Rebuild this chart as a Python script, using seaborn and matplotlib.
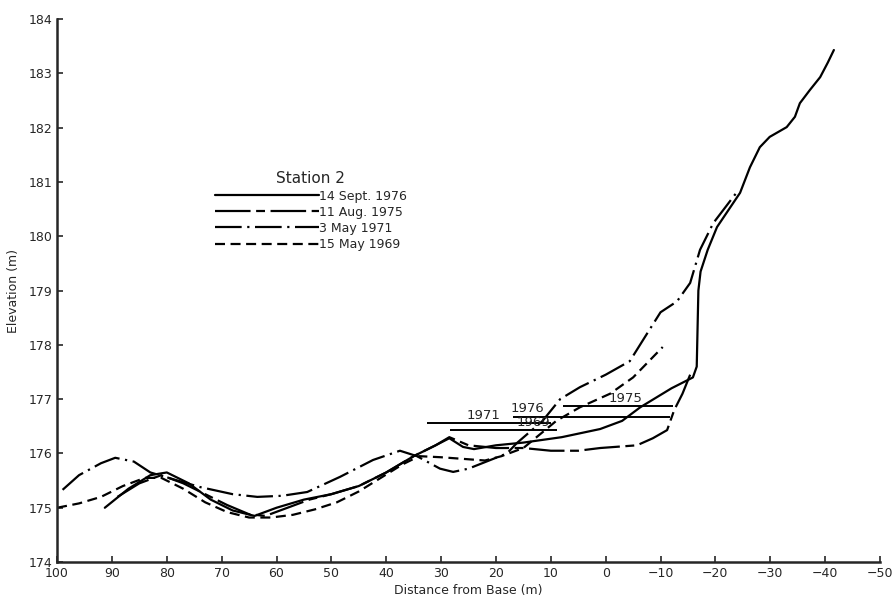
import numpy as np
import pandas as pd
import matplotlib
matplotlib.use('Agg')
import matplotlib.pyplot as plt
import seaborn as sns

# Beach profiles, Station 2 (distance from base in m, elevation in m)
x_1976 = [91.3, 87, 83, 80, 76, 72, 68, 64, 60, 55, 50, 45, 40, 35, 31, 28.5, 26, 24, 20,
          15, 8, 1, -3, -6.3, -12, -15.9, -16.6, -16.9, -17.3, -18.6, -20.3, -24.5, -26.3,
          -28.1, -29.9, -33, -34.5, -35.4, -37.2, -39.1, -40.5, -41.6]
y_1976 = [175.0, 175.35, 175.6, 175.65, 175.45, 175.15, 174.95, 174.85, 175.0, 175.15, 175.25,
          175.4, 175.65, 175.95, 176.15, 176.28, 176.12, 176.08, 176.15, 176.2, 176.3, 176.45,
          176.6, 176.85, 177.2, 177.4, 177.6, 179.0, 179.35, 179.75, 180.17, 180.8, 181.27,
          181.64, 181.83, 182.01, 182.2, 182.45, 182.69, 182.93, 183.2, 183.43]

x_1975 = [89, 85, 81, 77, 73, 69, 65, 62, 58, 54, 50, 45, 40, 35, 31, 28.5, 25, 20, 15, 10,
          5, 1, -5.7, -8.6, -11.2, -12.5, -14, -15.4]
y_1975 = [175.2, 175.45, 175.6, 175.45, 175.25, 175.05, 174.88, 174.85, 175.0, 175.15, 175.25,
          175.4, 175.65, 175.95, 176.15, 176.3, 176.15, 176.1, 176.1, 176.05, 176.05, 176.1,
          176.15, 176.28, 176.43, 176.8, 177.1, 177.45]

x_1971 = [99, 96, 92, 89.4, 86, 83, 78, 73.9, 68, 63.5, 59, 54.4, 48.4, 42.4, 37.5, 34.4, 30.2,
          27.8, 25, 21, 18, 16.2, 11.5, 8.3, 4.7, 0, -4.4, -7.5, -10, -13, -15.4, -17.2, -19.6,
          -23.9]
y_1971 = [175.33, 175.6, 175.82, 175.92, 175.85, 175.65, 175.5, 175.38, 175.25, 175.2, 175.22,
          175.29, 175.57, 175.88, 176.05, 175.95, 175.72, 175.66, 175.72, 175.88, 176.0, 176.19,
          176.6, 177.0, 177.22, 177.45, 177.7, 178.2, 178.6, 178.8, 179.14, 179.75, 180.24,
          180.81]

x_1969 = [100, 96, 92, 88, 84, 81, 77, 73, 69, 65, 61, 57, 53, 49, 45, 41, 37, 34, 30, 26,
          22, 19, 15, 12, 9, 4.7, -0.8, -5, -10.4]
y_1969 = [175.0, 175.08, 175.2, 175.4, 175.55, 175.55, 175.35, 175.1, 174.92, 174.82, 174.82,
          174.87, 174.97, 175.1, 175.3, 175.55, 175.8, 175.95, 175.93, 175.9, 175.87, 175.95,
          176.1, 176.35, 176.6, 176.85, 177.1, 177.4, 177.96]

# water levels: year, elevation, start, end
wl_years = ['1971', '1976', '1969', '1975']
wl_level = [176.56, 176.67, 176.43, 176.87]
wl_start = [32.6, 16.9, 28.4, 7.8]
wl_end = [10.0, -11.7, 8.9, -12.3]
wl_label_x = [22.2, 14.3, 13.2, -3.7]
wl_label_y = [176.58, 176.70, 176.45, 176.89]

profiles = [
    ('14 Sept. 1976', x_1976, y_1976, '-'),
    ('11 Aug. 1975', x_1975, y_1975, (0, (16, 2.5, 4, 2.5))),
    ('3 May 1971', x_1971, y_1971, (0, (12, 2.5, 1, 2.5))),
    ('15 May 1969', x_1969, y_1969, (0, (4.5, 2.5))),
]

sns.set_style('ticks')
plt.rcParams['font.family'] = ['DejaVu Sans']

fig = plt.figure(figsize=(8.92, 6.05), dpi=100)
ax = fig.add_axes([0.064, 0.071, 0.9225, 0.8975])

for name, xs, ys, ls in profiles:
    df = pd.DataFrame({'dist': xs, 'elev': ys})
    sns.lineplot(data=df, x='dist', y='elev', ax=ax, sort=False, estimator=None,
                 color='black', linewidth=1.6, linestyle=ls, label=name)

for yr, lv, s, e, lx, ly in zip(wl_years, wl_level, wl_start, wl_end, wl_label_x, wl_label_y):
    ax.hlines(lv, s, e, color='black', linewidth=1.4)
    ax.text(lx, ly, yr, fontsize=9.5, ha='center', va='bottom')

ax.set_xlim(100, -50)
ax.set_ylim(174, 184)
ax.set_xticks(np.arange(100, -51, -10))
ax.set_yticks(np.arange(174, 185, 1))
ax.tick_params(direction='in', length=4, width=1.2, labelsize=9)
for side in ['top', 'right']:
    ax.spines[side].set_visible(False)
for side in ['left', 'bottom']:
    ax.spines[side].set_linewidth(1.8)
ax.set_xlabel('Distance from Base (m)', fontsize=9, labelpad=3)
ax.set_ylabel('Elevation (m)', fontsize=9, labelpad=6)

leg = ax.legend(title='Station 2', loc='upper left', bbox_to_anchor=(0.178, 0.74),
                frameon=False, handlelength=8.3, handletextpad=0.0, labelspacing=0.25,
                fontsize=9, title_fontsize=11)
leg._legend_box.align = 'center'

fig.savefig('out.png', dpi=100)
